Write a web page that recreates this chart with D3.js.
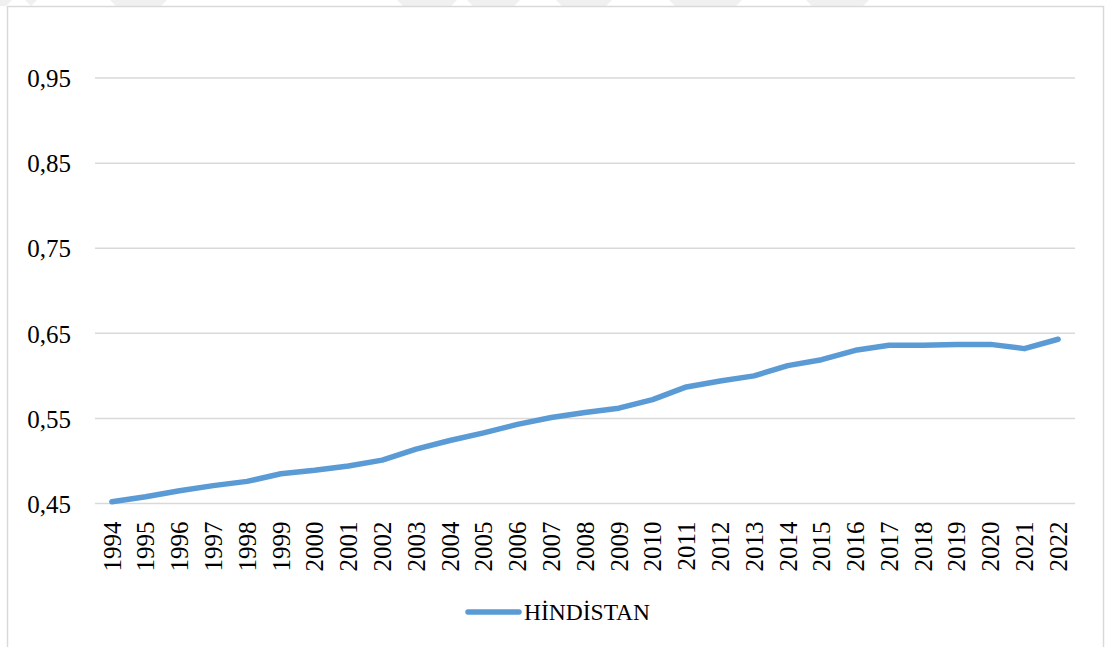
<!DOCTYPE html>
<html>
<head>
<meta charset="utf-8">
<script src="https://cdn.jsdelivr.net/npm/d3@7"></script>
<style>
  html, body { margin: 0; padding: 0; background: #ffffff; }
  svg { display: block; }
</style>
</head>
<body>
<svg id="chart" width="1109" height="647"></svg>
<script>
const years = ["1994","1995","1996","1997","1998","1999","2000","2001","2002","2003","2004","2005","2006","2007","2008","2009","2010","2011","2012","2013","2014","2015","2016","2017","2018","2019","2020","2021","2022"];
const hindistan = [0.452,0.458,0.465,0.471,0.476,0.485,0.489,0.494,0.501,0.514,0.524,0.533,0.543,0.551,0.557,0.562,0.572,0.587,0.594,0.600,0.612,0.619,0.630,0.636,0.636,0.637,0.637,0.632,0.643];
const yTicks = [0.45,0.55,0.65,0.75,0.85,0.95];
const seriesName = "HİNDİSTAN";

const svg = d3.select("#chart");
const plot = { left: 95, right: 1075, top: 35.5, bottom: 503.5 };
const font = "'Liberation Serif', 'Times New Roman', serif";

// faint watermark stripes at the top
const stripes = [[-20, 12], [25, 37], [110, 167], [397, 457], [467, 520], [556, 612], [669, 742], [806, 869]];
svg.append("g").selectAll("path").data(stripes).join("path")
  .attr("d", d => `M${d[0]},0 L${d[1]},0 L${d[1]-6},6 L${d[0]+6},6 Z`)
  .attr("fill", "#f0f0f0");

// chart border
svg.append("rect")
  .attr("x", 7.5).attr("y", 6.5)
  .attr("width", 1096).attr("height", 660)
  .attr("fill", "#ffffff")
  .attr("stroke", "#d9d9d9").attr("stroke-width", 1.5);

const x = d3.scaleBand().domain(years).range([plot.left, plot.right]);
const y = d3.scaleLinear().domain([0.45, 1.0]).range([plot.bottom, plot.top]);

// gridlines
svg.append("g").selectAll("line").data(yTicks).join("line")
  .attr("x1", plot.left).attr("x2", plot.right)
  .attr("y1", d => y(d)).attr("y2", d => y(d))
  .attr("stroke", "#d9d9d9").attr("stroke-width", 1.5);

// y axis labels
const fmt = d => d3.format(".2f")(d).replace(".", ",");
const yAxis = d3.axisLeft(y).tickValues(yTicks).tickFormat(fmt).tickSize(0).tickPadding(24);
const gy = svg.append("g").attr("transform", `translate(${plot.left},0)`).call(yAxis);
gy.select(".domain").remove();
gy.selectAll("text")
  .attr("font-family", font).attr("font-size", 25).attr("fill", "#000000")
  .attr("dy", "0.35em");

// x axis labels (rotated)
const xAxis = d3.axisBottom(x).tickSize(0).tickPadding(0);
const gx = svg.append("g").attr("transform", `translate(0,${plot.bottom})`).call(xAxis);
gx.select(".domain").remove();
gx.selectAll("text")
  .attr("font-family", font).attr("font-size", 25).attr("fill", "#000000")
  .attr("text-anchor", "end")
  .attr("transform", "rotate(-90)")
  .attr("x", -18).attr("y", 0).attr("dy", "0.35em");

// the line
const line = d3.line()
  .x((d, i) => x(years[i]) + x.bandwidth() / 2)
  .y(d => y(d));
svg.append("path")
  .datum(hindistan)
  .attr("d", line)
  .attr("fill", "none")
  .attr("stroke", "#5b9bd5")
  .attr("stroke-width", 5.5)
  .attr("stroke-linejoin", "round")
  .attr("stroke-linecap", "round");

// legend
const lg = svg.append("g");
lg.append("line")
  .attr("x1", 468).attr("x2", 519).attr("y1", 612).attr("y2", 612)
  .attr("stroke", "#5b9bd5").attr("stroke-width", 5.5).attr("stroke-linecap", "round");
lg.append("text")
  .attr("x", 524).attr("y", 612).attr("dy", "0.35em")
  .attr("font-family", font).attr("font-size", 23.5).attr("fill", "#000000")
  .text(seriesName);
</script>
</body>
</html>
